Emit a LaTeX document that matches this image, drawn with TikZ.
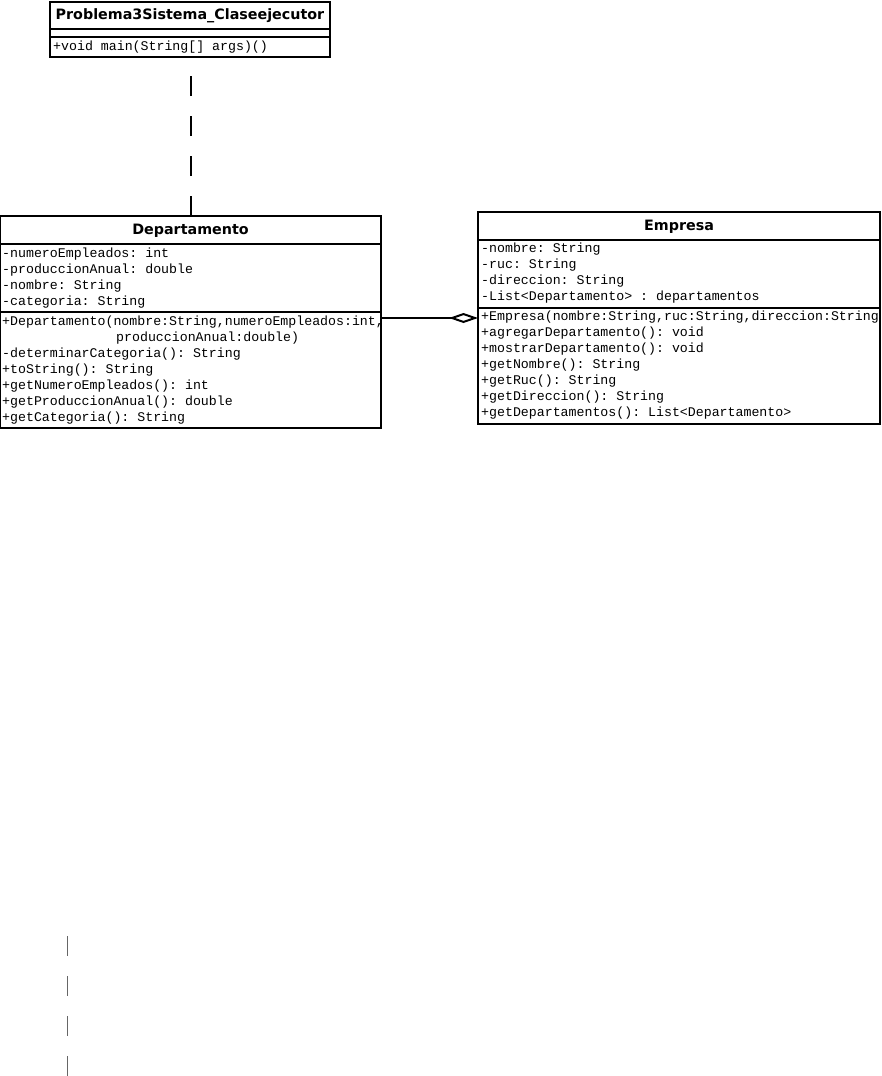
\documentclass[tikz,border=0pt]{standalone}
\usepackage{fontspec}
\setmonofont{Liberation Mono}
\newfontfamily\titlefont{DejaVu Sans}
\usetikzlibrary{arrows.meta}
\tikzset{
  classbox/.style={draw=black, line width=1.8pt, fill=white, inner sep=0pt, outer sep=0pt, anchor=north west},
  sepline/.style={line width=1.5pt},
  ctitle/.style={font=\titlefont\bfseries\fontsize{14.3}{17}\selectfont, inner sep=0pt},
  mono/.style={font=\ttfamily\fontsize{13.25}{16}\selectfont, inner sep=0pt, anchor=west, text height=9pt, text depth=3pt},
  depline/.style={line width=2pt, dash pattern=on 20pt off 20pt},
  aggline/.style={line width=2pt, -{Diamond[open, length=29pt, width=10pt, line width=2pt]}},
  greydash/.style={draw=black!60, line width=1pt, dash pattern=on 20pt off 20pt}
}
\begin{document}
\begin{tikzpicture}[x=1pt,y=-1pt]
\useasboundingbox (0,0) rectangle (881,1076);
% Problema3Sistema_Claseejecutor
\node[classbox, minimum width=280pt, minimum height=55pt] (ej) at (50,2) {};
\draw[sepline] (50,29) -- (330,29);
\draw[sepline] (50,37) -- (330,37);
\node[ctitle] (ejt) at (190,16) {Problema3Sistema\_Claseejecutor};
\node[mono] (ejm) at (53,47) {+void main(String[] args)()};
% Departamento
\node[classbox, minimum width=381pt, minimum height=212pt] (dep) at (0,216) {};
\draw[sepline] (0,244) -- (381,244);
\draw[sepline] (0,312) -- (381,312);
\node[ctitle] (dept) at (190.5,231) {Departamento};
\node[mono] (da1) at (2,254) {-numeroEmpleados: int};
\node[mono] (da2) at (2,270) {-produccionAnual: double};
\node[mono] (da3) at (2,286) {-nombre: String};
\node[mono] (da4) at (2,302) {-categoria: String};
\node[mono] (dm1) at (2,322) {+Departamento(nombre:String,numeroEmpleados:int,};
\node[mono] (dm1b) at (116,338) {produccionAnual:double)};
\node[mono] (dm2) at (2,354) {-determinarCategoria(): String};
\node[mono] (dm3) at (2,370) {+toString(): String};
\node[mono] (dm4) at (2,386) {+getNumeroEmpleados(): int};
\node[mono] (dm5) at (2,402) {+getProduccionAnual(): double};
\node[mono] (dm6) at (2,418) {+getCategoria(): String};
% Empresa
\node[classbox, minimum width=402pt, minimum height=212pt] (emp) at (478,212) {};
\draw[sepline] (478,240) -- (880,240);
\draw[sepline] (478,308) -- (880,308);
\node[ctitle] (empt) at (679,227) {Empresa};
\node[mono] (ea1) at (481,249) {-nombre: String};
\node[mono] (ea2) at (481,265) {-ruc: String};
\node[mono] (ea3) at (481,281) {-direccion: String};
\node[mono] (ea4) at (481,297) {-List<Departamento> : departamentos};
\node[mono] (em1) at (481,317) {+Empresa(nombre:String,ruc:String,direccion:String};
\node[mono] (em2) at (481,333) {+agregarDepartamento(): void};
\node[mono] (em3) at (481,349) {+mostrarDepartamento(): void};
\node[mono] (em4) at (481,365) {+getNombre(): String};
\node[mono] (em5) at (481,381) {+getRuc(): String};
\node[mono] (em6) at (481,397) {+getDireccion(): String};
\node[mono] (em7) at (481,413) {+getDepartamentos(): List<Departamento>};
% connectors
\draw[depline] (dep.north) -- (dep.north |- ej.south);
\draw[aggline] (dep.east |- 0,318) -- (emp.west |- 0,318);
% bottom-left grey dashes
\coordinate (g1) at (67,936);
\coordinate (g2) at (67,1076);
\draw[greydash] (g1) -- (g2);
\end{tikzpicture}
\end{document}
